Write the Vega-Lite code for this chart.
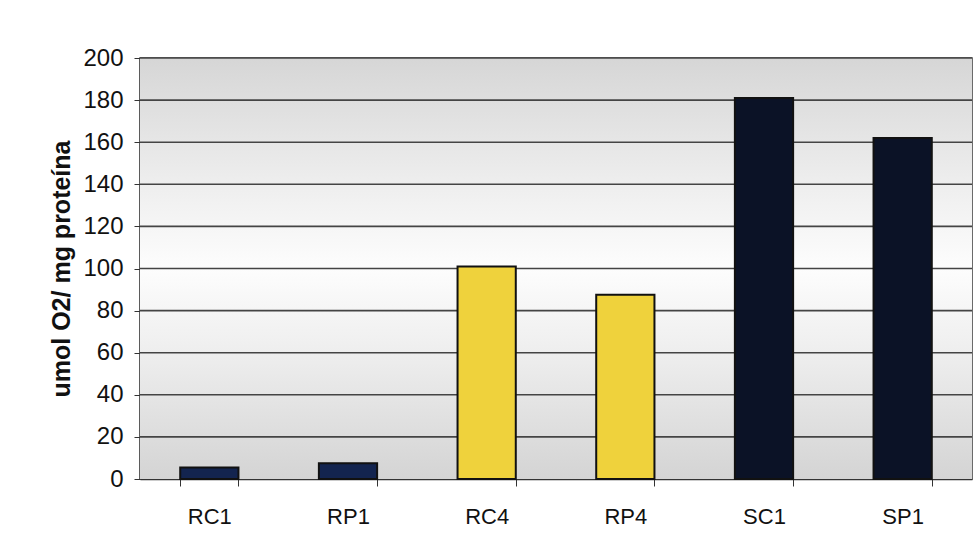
{
  "$schema": "https://vega.github.io/schema/vega-lite/v6.json",
  "width": 832,
  "height": 421,
  "autosize": {"type": "none"},
  "padding": {"left": 140, "top": 58, "right": 8, "bottom": 74},
  "background": "white",
  "config": {
    "view": {"stroke": "#3a3a3a", "strokeWidth": 1.5},
    "font": "Liberation Sans"
  },
  "layer": [
    {
      "data": {"values": [{"lo": 0, "hi": 200}]},
      "mark": {
        "type": "rect",
        "color": {
          "gradient": "linear",
          "x1": 0, "y1": 0, "x2": 0, "y2": 1,
          "stops": [
            {"offset": 0, "color": "#d6d6d6"},
            {"offset": 0.3, "color": "#eeeeee"},
            {"offset": 0.5, "color": "#fdfdfd"},
            {"offset": 0.7, "color": "#eeeeee"},
            {"offset": 1, "color": "#d4d4d4"}
          ]
        }
      },
      "encoding": {
        "y": {"field": "lo", "type": "quantitative", "scale": {"domain": [0, 200]}},
        "y2": {"field": "hi"}
      }
    },
    {
      "data": {"values": [{"g": 20}, {"g": 40}, {"g": 60}, {"g": 80}, {"g": 100}, {"g": 120}, {"g": 140}, {"g": 160}, {"g": 180}, {"g": 200}]},
      "mark": {"type": "rule", "color": "#444444", "strokeWidth": 1.6},
      "encoding": {
        "y": {"field": "g", "type": "quantitative"}
      }
    },
    {
      "data": {
        "values": [
          {"sample": "RC1", "value": 5.5, "group": "a"},
          {"sample": "RP1", "value": 7.5, "group": "a"},
          {"sample": "RC4", "value": 101, "group": "b"},
          {"sample": "RP4", "value": 87.5, "group": "b"},
          {"sample": "SC1", "value": 181, "group": "c"},
          {"sample": "SP1", "value": 162, "group": "c"}
        ]
      },
      "mark": {"type": "bar", "stroke": "#111111", "strokeWidth": 2},
      "encoding": {
        "x": {
          "field": "sample", "type": "nominal", "sort": null,
          "scale": {"paddingInner": 0.58, "paddingOuter": 0.29},
          "axis": {
            "title": null, "labelAngle": 0, "labelFontSize": 22, "labelColor": "#111",
            "labelPadding": 20, "tickBand": "extent", "tickSize": 7, "tickColor": "#333",
            "domainColor": "#333", "domainWidth": 1.5, "grid": false
          }
        },
        "y": {
          "field": "value", "type": "quantitative",
          "scale": {"domain": [0, 200]},
          "axis": {
            "title": "umol O2/ mg proteína", "titleFontSize": 25, "titleFontWeight": "bold",
            "titleColor": "#111", "titlePadding": 8,
            "values": [0, 20, 40, 60, 80, 100, 120, 140, 160, 180, 200],
            "labelFontSize": 24, "labelColor": "#111", "labelPadding": 11,
            "tickSize": 6, "tickColor": "#333", "domainColor": "#333", "domainWidth": 1.5,
            "grid": false
          }
        },
        "color": {
          "field": "group", "type": "nominal", "legend": null,
          "scale": {"domain": ["a", "b", "c"], "range": ["#13244f", "#efd23c", "#0b1226"]}
        }
      }
    }
  ]
}
